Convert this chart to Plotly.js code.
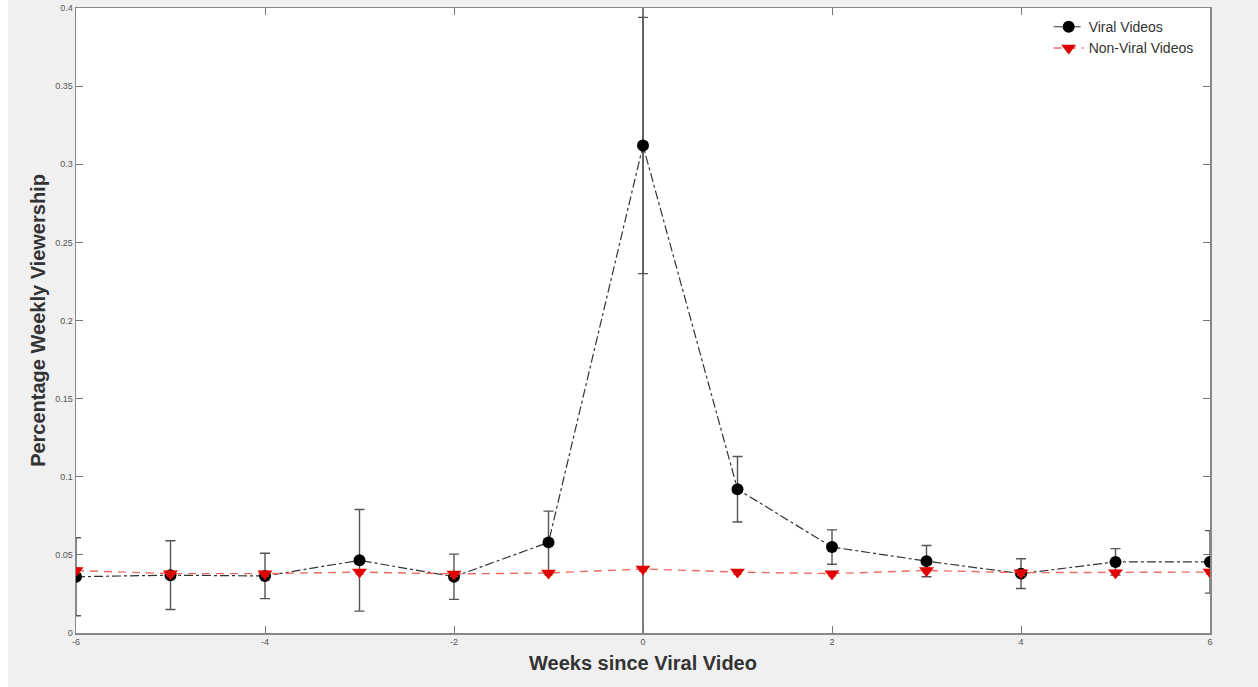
<!DOCTYPE html>
<html>
<head>
<meta charset="utf-8">
<script src="https://cdn.plot.ly/plotly-3.0.1.min.js"></script>
<style>
html,body{margin:0;padding:0;background:#ffffff;}
#chart{position:absolute;left:8px;top:0px;width:1250px;height:687px;}
</style>
</head>
<body>
<div id="chart"></div>
<script>
const weeks = [-6,-5,-4,-3,-2,-1,0,1,2,3,4,5,6];
const viral = [0.036,0.037,0.0365,0.0465,0.036,0.058,0.312,0.092,0.055,0.046,0.038,0.0455,0.0455];
const viralErr = [0.025,0.022,0.0145,0.0325,0.0145,0.02,0.082,0.021,0.011,0.010,0.0095,0.0085,0.02];
const nonViral = [0.040,0.038,0.038,0.039,0.0378,0.0384,0.041,0.039,0.038,0.040,0.0386,0.0386,0.039];
const nonViralErr = [0.0015,0.0015,0.0015,0.0015,0.0015,0.0015,0.0015,0.0015,0.0015,0.0015,0.0015,0.0015,0.0015];
const yTicks = [0,0.05,0.1,0.15,0.2,0.25,0.3,0.35,0.4];
const yTickText = ['0','0.05','0.1','0.15','0.2','0.25','0.3','0.35','0.4'];
const xTicks = [-6,-4,-2,0,2,4,6];

const traces = [
  {
    x: weeks, y: viral, name: 'Viral Videos', type: 'scatter', mode: 'lines+markers',
    line: {color: '#333333', width: 1.2, dash: 'dashdot'},
    marker: {color: '#000000', size: 12, symbol: 'circle'},
    error_y: {type: 'data', array: viralErr, visible: true, color: '#555555', thickness: 1.4, width: 5}
  },
  {
    x: weeks, y: nonViral, name: 'Non-Viral Videos', type: 'scatter', mode: 'lines+markers',
    line: {color: '#ec6a62', width: 1.4, dash: '8px,6px'},
    marker: {color: '#e00000', size: 13, symbol: 'triangle-down'},
    error_y: {type: 'data', array: nonViralErr, visible: true, color: '#e06060', thickness: 1.2, width: 4}
  }
];

const layout = {
  width: 1250, height: 687,
  paper_bgcolor: '#f0f0f0', plot_bgcolor: '#ffffff',
  margin: {l: 68, r: 48, t: 8, b: 54},
  font: {family: 'Liberation Sans, Arial, sans-serif', color: '#444'},
  showlegend: true,
  legend: {x: 0.99, y: 0.995, xanchor: 'right', yanchor: 'top', bgcolor: 'rgba(255,255,255,0)',
           font: {size: 14, color: '#333'}, tracegroupgap: 0, itemwidth: 30},
  xaxis: {
    range: [-6, 6], tickvals: xTicks, ticktext: xTicks.map(String),
    ticks: 'inside', ticklen: 7, tickcolor: '#777', showline: true, linecolor: '#888', linewidth: 1.5,
    mirror: 'ticks', showgrid: false, zeroline: false, tickfont: {size: 9, color: '#555'},
    title: {text: '<b>Weeks since Viral Video</b>', font: {size: 20, color: '#333'}, standoff: 9}
  },
  yaxis: {
    range: [0, 0.4], tickvals: yTicks, ticktext: yTickText,
    ticks: 'inside', ticklen: 7, tickcolor: '#777', showline: true, linecolor: '#888', linewidth: 1.5,
    mirror: 'ticks', showgrid: false, zeroline: false, tickfont: {size: 9, color: '#555'},
    title: {text: '<b>Percentage Weekly Viewership</b>', font: {size: 20, color: '#333'}, standoff: 4}
  },
  shapes: [
    {type: 'line', xref: 'x', yref: 'paper', x0: 0, x1: 0, y0: 0, y1: 1,
     line: {color: '#555555', width: 1.5}, layer: 'below'}
  ]
};

Plotly.newPlot('chart', traces, layout, {displayModeBar: false, staticPlot: true});
</script>
</body>
</html>
